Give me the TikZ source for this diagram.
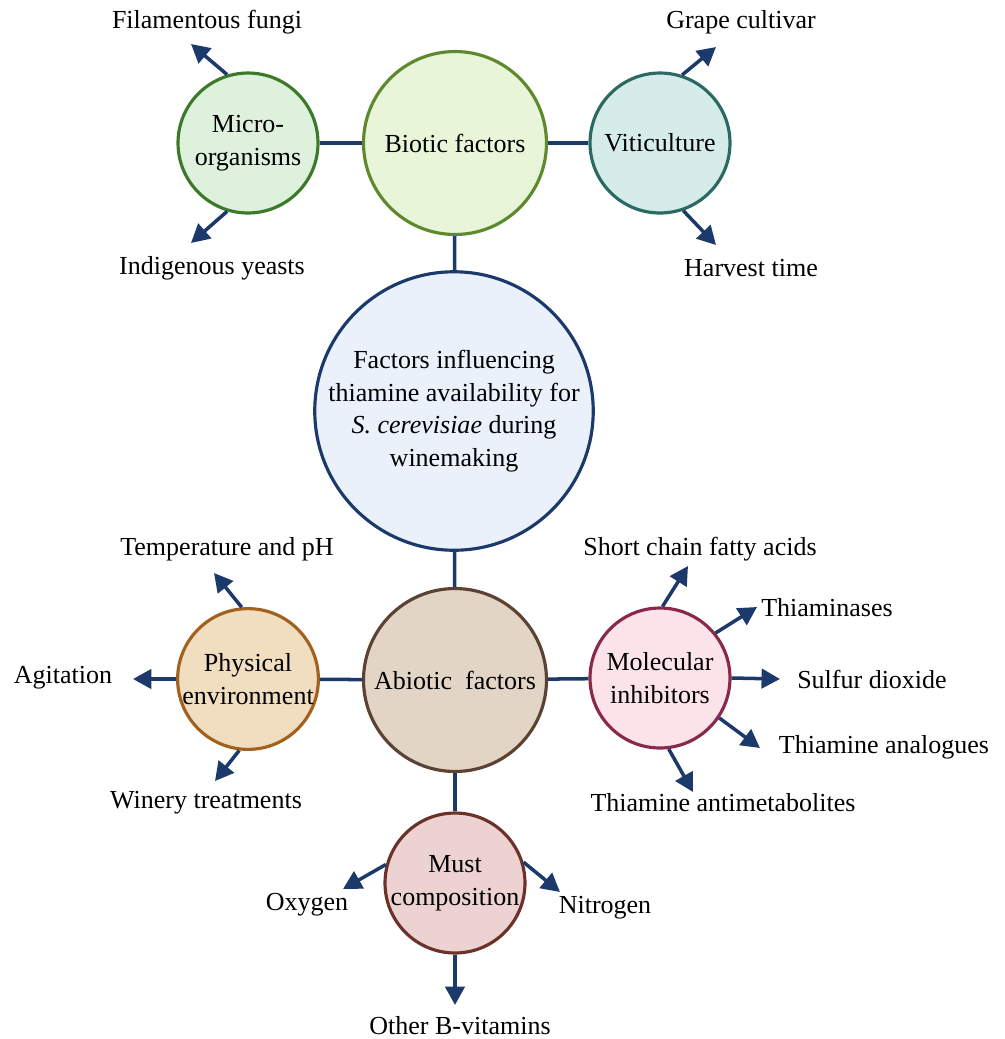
\documentclass[tikz,border=0pt]{standalone}
\usepackage{fontspec}
\setmainfont{Liberation Serif}
\usetikzlibrary{arrows.meta}
\definecolor{navy}{HTML}{1B3A6B}
\definecolor{bioticfill}{HTML}{E9F5D8}
\definecolor{bioticline}{HTML}{5E8A2E}
\definecolor{microfill}{HTML}{DDF1DD}
\definecolor{microline}{HTML}{3C7A2A}
\definecolor{vitifill}{HTML}{D5ECEA}
\definecolor{vitiline}{HTML}{2A6A62}
\definecolor{mainfill}{HTML}{EAF1FA}
\definecolor{abioticfill}{HTML}{E3D5C6}
\definecolor{abioticline}{HTML}{5B4232}
\definecolor{physfill}{HTML}{F1DDC0}
\definecolor{physline}{HTML}{A2621E}
\definecolor{molfill}{HTML}{FBE3E9}
\definecolor{molline}{HTML}{8A2A4A}
\definecolor{mustfill}{HTML}{EDD2D2}
\definecolor{mustline}{HTML}{6B3229}
\tikzset{
  bubble/.style={circle, line width=1.8pt, align=center, inner sep=0pt},
  bigbubble/.style={bubble, minimum size=3.66cm},
  smallbubble/.style={bubble, minimum size=2.8cm},
  link/.style={draw=navy, line width=2pt},
  arr/.style={draw=navy, line width=2pt, -{Triangle[length=10.5pt,width=11pt]}},
  lbl/.style={inner sep=1pt}
}

\begin{document}
\begin{tikzpicture}[x=0.02cm,y=-0.02cm,font=\fontsize{14.8}{18.5}\selectfont]
\useasboundingbox (0,0) rectangle (1005,1039);

% circles
\node[bubble, minimum size=5.44cm, draw=navy, fill=mainfill] (main) at (454,411)
  {Factors influencing\\thiamine availability for\\\textit{S. cerevisiae} during\\winemaking};
\node[bigbubble, draw=bioticline, fill=bioticfill] (biotic) at (455,143) {Biotic factors};
\node[smallbubble, draw=microline, fill=microfill] (micro) at (248,143) {Micro-\\organisms};
\node[smallbubble, draw=vitiline, fill=vitifill] (viti) at (660,143) {Viticulture};
\node[bigbubble, draw=abioticline, fill=abioticfill] (abiotic) at (455,680) {Abiotic\ \ factors};
\node[smallbubble, draw=physline, fill=physfill] (phys) at (248,679) {Physical\\environment};
\node[smallbubble, draw=molline, fill=molfill] (mol) at (660,678) {Molecular\\inhibitors};
\node[smallbubble, draw=mustline, fill=mustfill] (must) at (455,883) {Must\\composition};

% links
\draw[link] (micro) -- (biotic);
\draw[link] (biotic) -- (viti);
\draw[link] (biotic) -- (main);
\draw[link] (main) -- (abiotic);
\draw[link] (phys) -- (abiotic);
\draw[link] (abiotic) -- (mol);
\draw[link] (abiotic) -- (must);

% labels
\node[lbl] (fungi) at (207,22) {Filamentous fungi};
\node[lbl] (yeasts) at (212,268) {Indigenous yeasts};
\node[lbl] (grape) at (741,22) {Grape cultivar};
\node[lbl] (harvest) at (751,268) {Harvest time};
\node[lbl] (temp) at (227,549) {Temperature and pH};
\node[lbl] (agit) at (63,678) {Agitation};
\node[lbl] (winery) at (206,803) {Winery treatments};
\node[lbl] (scfa) at (700,549) {Short chain fatty acids};
\node[lbl] (thiam) at (827,608) {Thiaminases};
\node[lbl] (so2) at (872,679) {Sulfur dioxide};
\node[lbl] (analog) at (884,747) {Thiamine analogues};
\node[lbl] (antimet) at (723,803) {Thiamine antimetabolites};
\node[lbl] (oxy) at (307,905) {Oxygen};
\node[lbl] (nitro) at (605,908) {Nitrogen};
\node[lbl] (vitb) at (460,1026) {Other B-vitamins};

% arrow ends
\coordinate (fungiend) at (191,44);
\coordinate (yeastsend) at (191,243);
\coordinate (grapeend) at (716,47);
\coordinate (harvestend) at (716,245);
\coordinate (tempend) at (214,573);
\coordinate (agitend) at (133,679);
\coordinate (wineryend) at (215,781);
\coordinate (scfaend) at (688,566);
\coordinate (thiamend) at (757,607);
\coordinate (so2end) at (780,679);
\coordinate (analogend) at (760,748);
\coordinate (antimetend) at (693,792);
\coordinate (oxyend) at (343,889);
\coordinate (nitroend) at (560,892);
\coordinate (vitbend) at (455,1005);

% arrows
\draw[arr] (micro.107) -- (fungiend);
\draw[arr] (micro.253) -- (yeastsend);
\draw[arr] (viti.72) -- (grapeend);
\draw[arr] (viti.289) -- (harvestend);
\draw[arr] (phys.95) -- (tempend);
\draw[arr] (phys.180) -- (agitend);
\draw[arr] (phys.263) -- (wineryend);
\draw[arr] (mol.88) -- (scfaend);
\draw[arr] (mol.39) -- (thiamend);
\draw[arr] (mol.0) -- (so2end);
\draw[arr] (mol.326) -- (analogend);
\draw[arr] (mol.277) -- (antimetend);
\draw[arr] (must.165) -- (oxyend);
\draw[arr] (must.17) -- (nitroend);
\draw[arr] (must.270) -- (vitbend);
\end{tikzpicture}
\end{document}
